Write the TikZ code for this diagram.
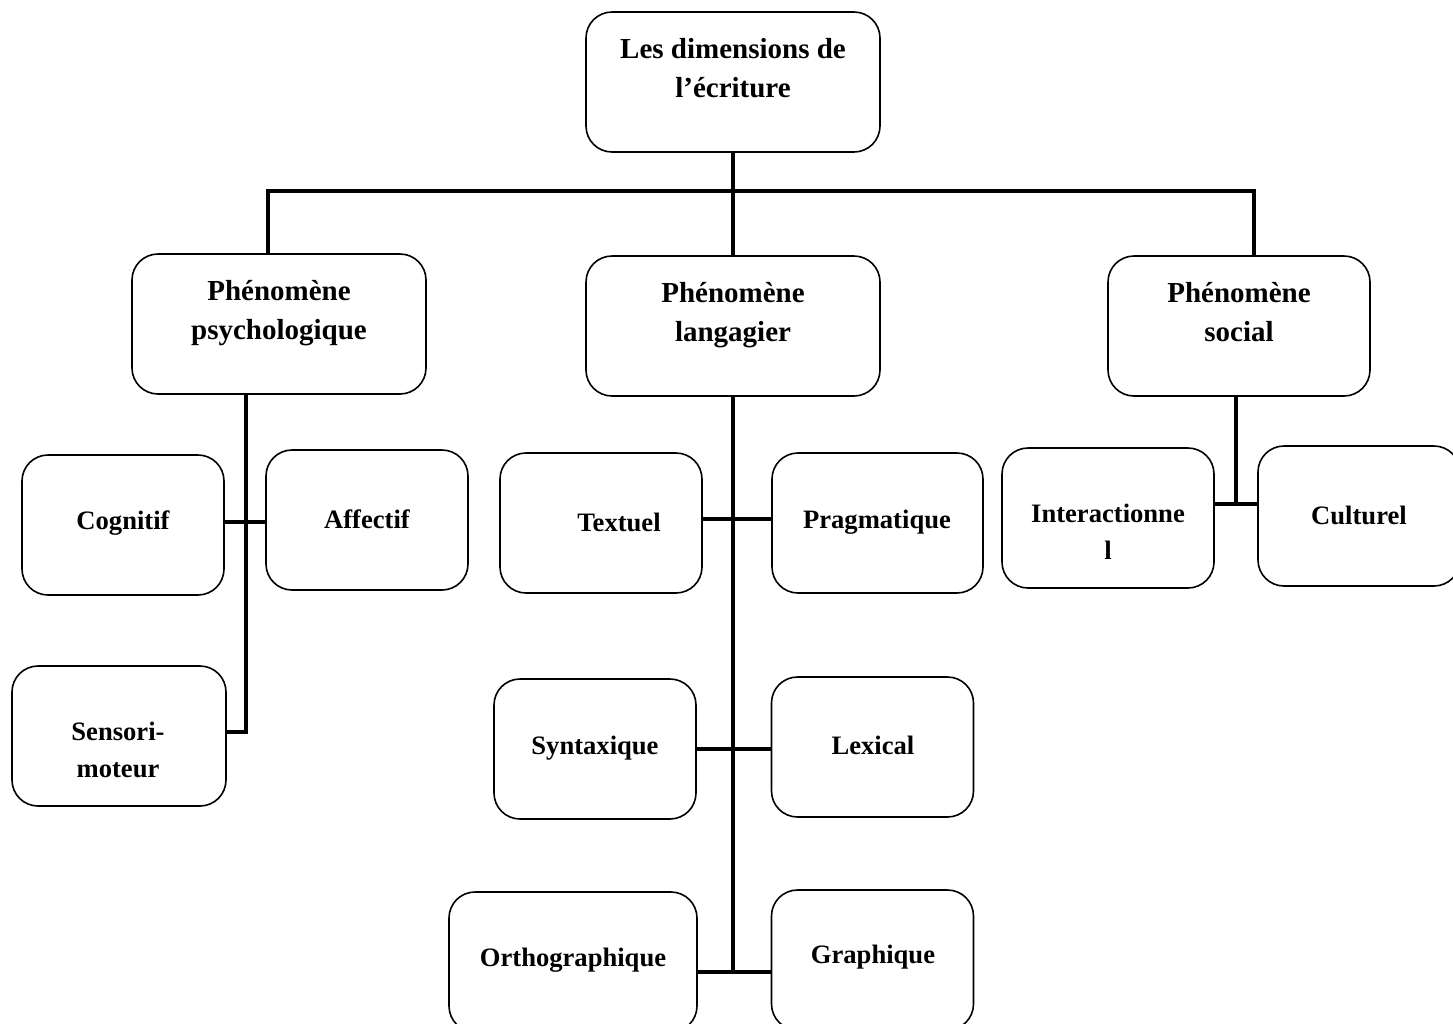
\documentclass[tikz,border=0pt]{standalone}
\usepackage{fontspec}
\setmainfont{Liberation Serif}
\usepackage{tikz}
\usetikzlibrary{positioning}
\tikzstyle{box}=[draw,rounded corners=13pt,line width=0.8pt,minimum width=101pt,minimum height=70pt,inner sep=0pt,outer sep=0pt]
\tikzstyle{head}=[align=center,inner sep=0pt,font=\bfseries\fontsize{14.5}{19.5}\selectfont]
\tikzstyle{leaf}=[align=center,inner sep=0pt,font=\bfseries\fontsize{13.3}{18.5}\selectfont]
\tikzstyle{link} = [draw,line width=2pt,-]

\begin{document}
\begin{tikzpicture}[x=0.5pt,y=-0.5pt]
        \useasboundingbox (0,0) rectangle (1453,1024);
        % boxes
        \node[box,minimum width=147pt] (top) at (733,82) {};
        \node[box,minimum width=147pt] (psy) at (279,324) {};
        \node[box,minimum width=147pt] (lang) at (733,326) {};
        \node[box,minimum width=131pt] (soc) at (1239,326) {};
        \node[box] (cog) at (123,525) {};
        \node[box] (aff) at (367,520) {};
        \node[box,minimum width=107pt] (sens) at (119,736) {};
        \node[box] (tex) at (601,523) {};
        \node[box,minimum width=105.5pt] (pra) at (877.5,523) {};
        \node[box] (syn) at (595,749) {};
        \node[box] (lex) at (872.5,747) {};
        \node[box,minimum width=124pt] (ort) at (573,962) {};
        \node[box] (gra) at (872.5,960) {};
        \node[box,minimum width=106pt] (int) at (1108,518) {};
        \node[box] (cul) at (1359,516) {};
        % texts
        \node[head] (topt) at (733,68.5) {Les dimensions de\\l’écriture};
        \node[head] (psyt) at (279,313) {Phénomène\\psychologique};
        \node[head] (langt) at (733,315) {Phénomène\\langagier};
        \node[head] (soct) at (1239,312.5) {Phénomène\\social};
        \node[leaf] (cogt) at (123,523) {Cognitif};
        \node[leaf] (afft) at (367,519) {Affectif};
        \node[leaf] (senst) at (118,749.5) {Sensori-\\moteur};
        \node[leaf] (text) at (619,522) {Textuel};
        \node[leaf] (prat) at (877,522) {Pragmatique};
        \node[leaf] (synt) at (595,748) {Syntaxique};
        \node[leaf] (lext) at (873,745) {Lexical};
        \node[leaf] (ortt) at (573,960) {Orthographique};
        \node[leaf] (grat) at (873,957) {Graphique};
        \node[leaf] (intt) at (1108,532) {Interactionne\\l};
        \node[leaf] (cult) at (1359,515) {Culturel};
        % links
        \coordinate (bl) at (268,191);
        \coordinate (br) at (1254,191);
        \coordinate (psyend) at (246,732);
        \coordinate (langend) at (733,972);
        \coordinate (socend) at (1236,504);
        \draw[link] (top) -- (lang);
        \draw[link] (bl |- psy.north) -- (bl) -- (br) -- (br |- soc.north);
        \draw[link] (psyend |- psy.south) -- (psyend) -- (sens.east |- psyend);
        \draw[link] (cog.east |- 0,522) -- (aff.west |- 0,522);
        \draw[link] (lang.south) -- (langend);
        \draw[link] (tex.east |- 0,519) -- (pra.west |- 0,519);
        \draw[link] (syn.east |- 0,749) -- (lex.west |- 0,749);
        \draw[link] (ort.east |- langend) -- (gra.west |- langend);
        \draw[link] (socend |- soc.south) -- (socend);
        \draw[link] (int.east |- socend) -- (cul.west |- socend);
      \end{tikzpicture}
\end{document}
